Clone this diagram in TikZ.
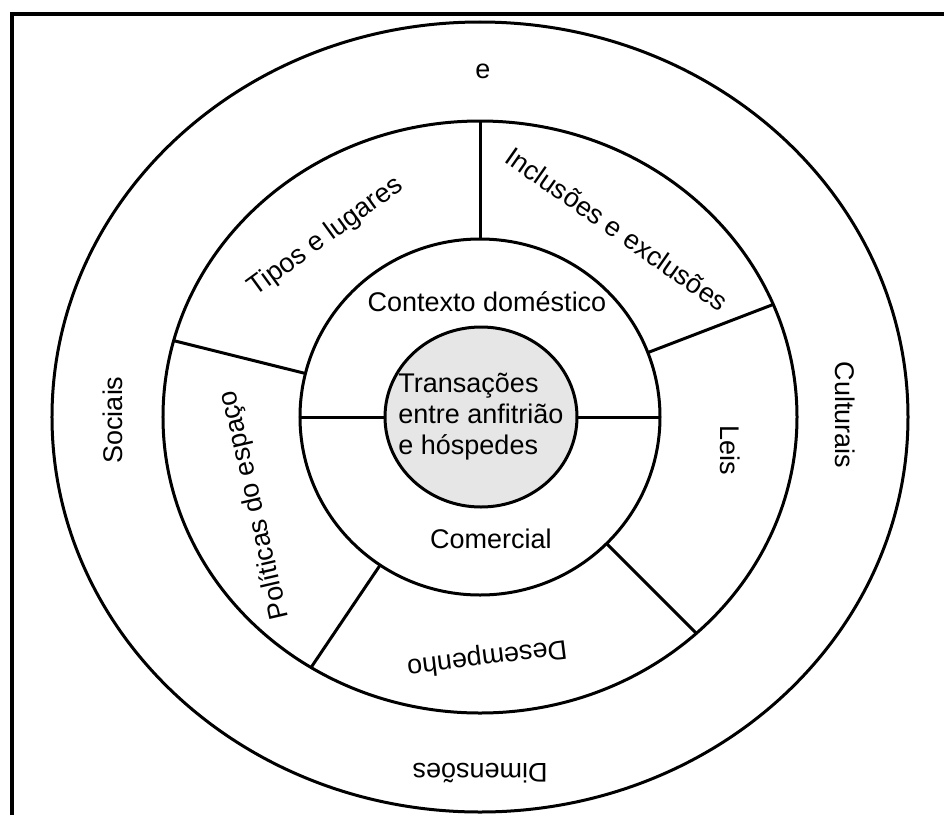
\documentclass[tikz,border=0pt]{standalone}
\usepackage{fontspec}
\setmainfont{Liberation Sans}
\usetikzlibrary{shapes.geometric}
\definecolor{hubgray}{HTML}{E6E6E6}
\begin{document}
\begin{tikzpicture}[x=1pt, y=1pt,
        ring/.style = {draw, ellipse, line width = 3pt, outer sep = 0pt, inner sep = 0pt},
        ringtext/.style = {font = \fontsize{27}{31}\selectfont, inner sep = 0pt}]
    \useasboundingbox (-480,-398) rectangle (464,417);
    % frame
    \draw[line width = 4pt] (-468,-398) -- (-468,403) -- (464,403);
    % rings
    \node[ring, minimum width = 856pt, minimum height = 790pt] (outer) at (0,0) {};
    \node[ring, minimum width = 634pt, minimum height = 592pt] (middle) at (0,0) {};
    \node[ring, minimum width = 360pt, minimum height = 356pt] (inner) at (0,0) {};
    \node[ring, fill = hubgray, minimum width = 192pt, minimum height = 180pt] (hub) at (1,0) {};
    \begin{scope}[style = {line width = 3pt}]
        \foreach \a in {90,21,-45,-124,166}
            \draw (inner.\a) -- (middle.\a);
        \draw (hub.180) -- (inner.180);
        \draw (hub.0) -- (inner.0);
    \end{scope}
    % outer ring
    \node[ringtext] (etop) at (3,346) {e};
    \node[ringtext, rotate = 90] (sociais) at (-367,-3) {Sociais};
    \node[ringtext, rotate = -90] (culturais) at (365,2) {Culturais};
    \node[ringtext, rotate = 180] (dimensoes) at (0,-356) {Dimensões};
    % sectors
    \node[ringtext, rotate = 36] (tipos) at (-154,180) {Tipos e lugares};
    \node[ringtext, rotate = -35] (inclusoes) at (137,188) {Inclusões e exclusões};
    \node[ringtext, rotate = -90] (leis) at (250,-33) {Leis};
    \node[ringtext, rotate = 187] (desempenho) at (7,-240) {Desempenho};
    \node[ringtext, rotate = 103] (politicas) at (-225,-88) {Políticas do espaço};
    % inner ring and hub
    \node[ringtext] (domestico) at (7,115) {Contexto doméstico};
    \node[ringtext] (comercial) at (11,-122) {Comercial};
    \node[ringtext, align = left] (hubtext) at (1,0) {Transações\\entre anfitrião\\e hóspedes};
\end{tikzpicture}
\end{document}
